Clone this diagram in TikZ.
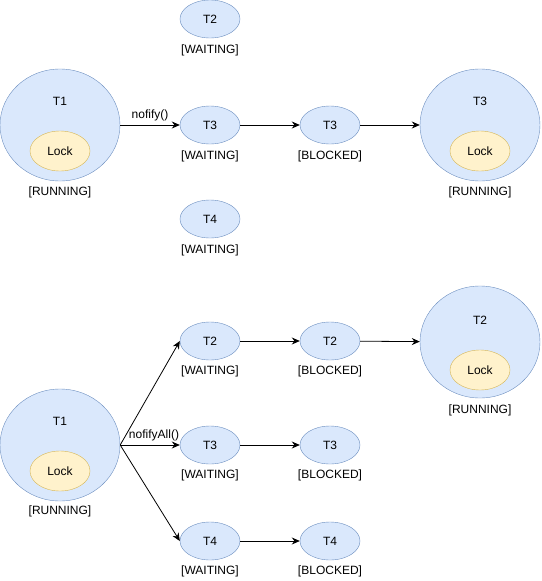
\documentclass[tikz,border=0pt]{standalone}
\usepackage{fontspec}
\setmainfont{Liberation Sans}
\usetikzlibrary{shapes.geometric,arrows.meta}
\definecolor{thrfill}{HTML}{DAE8FC}
\definecolor{thrline}{HTML}{6C8EBF}
\definecolor{lockfill}{HTML}{FFF2CC}
\definecolor{lockline}{HTML}{D6B656}
\begin{document}
\begin{tikzpicture}[x=1pt,y=-1pt,font=\fontsize{12}{14}\selectfont]
  \tikzstyle{thread}=[ellipse,draw=thrline,fill=thrfill,inner sep=0pt,minimum width=60pt,minimum height=38pt]
  \tikzstyle{owner}=[ellipse,draw=thrline,fill=thrfill,inner sep=0pt,minimum width=120pt,minimum height=112pt]
  \tikzstyle{lock}=[ellipse,draw=lockline,fill=lockfill,inner sep=0pt,minimum width=60pt,minimum height=40pt]
  \tikzstyle{flow}=[-{Stealth[length=8pt,width=7pt]},line width=0.8pt]
  \useasboundingbox (0,0) rectangle (541,581);

  % notify()
  \node[owner] (t1a) at (60,125) {};
  \node (t1atxt) at (60,101) {T1};
  \node[lock] (lka) at (60,151) {Lock};
  \node (t1asts) at (60,192) {[RUNNING]};

  \node[thread] (t2a) at (210,19) {T2};
  \node (t2asts) at (210,50) {[WAITING]};
  \node[thread] (t3a) at (210,125) {T3};
  \node (t3asts) at (210,156) {[WAITING]};
  \node[thread] (t4a) at (210,219) {T4};
  \node (t4asts) at (210,250) {[WAITING]};

  \node[thread] (t3b) at (330,125) {T3};
  \node (t3bsts) at (330,156) {[BLOCKED]};

  \node[owner] (t3c) at (480,125) {};
  \node (t3ctxt) at (480,101) {T3};
  \node[lock] (lkc) at (480,151) {Lock};
  \node (t3csts) at (480,192) {[RUNNING]};

  \draw[flow] (t1a) -- node[above] {nofify()} (t3a);
  \draw[flow] (t3a) -- (t3b);
  \draw[flow] (t3b) -- (t3c);

  % notifyAll()
  \node[owner] (t1d) at (60,445) {};
  \node (t1dtxt) at (60,421) {T1};
  \node[lock] (lkd) at (60,471) {Lock};
  \node (t1dsts) at (60,511) {[RUNNING]};

  \node[thread] (t2d) at (210,341) {T2};
  \node (t2dsts) at (210,371) {[WAITING]};
  \node[thread] (t3d) at (210,445) {T3};
  \node (t3dsts) at (210,475) {[WAITING]};
  \node[thread] (t4d) at (210,541) {T4};
  \node (t4dsts) at (210,571) {[WAITING]};

  \node[thread] (t2e) at (330,341) {T2};
  \node (t2ests) at (330,371) {[BLOCKED]};
  \node[thread] (t3e) at (330,445) {T3};
  \node (t3ests) at (330,475) {[BLOCKED]};
  \node[thread] (t4e) at (330,541) {T4};
  \node (t4ests) at (330,571) {[BLOCKED]};

  \node[owner] (t2f) at (480,342) {};
  \node (t2ftxt) at (480,320) {T2};
  \node[lock] (lkf) at (480,370) {Lock};
  \node (t2fsts) at (480,410) {[RUNNING]};

  \coordinate (fan) at (t1d.east);
  \draw[flow] (fan) -- (t2d.west);
  \draw[flow] (fan) -- node[above,xshift=4pt] {nofifyAll()} (t3d);
  \draw[flow] (fan) -- (t4d.west);
  \draw[flow] (t2d) -- (t2e);
  \draw[flow] (t3d) -- (t3e);
  \draw[flow] (t4d) -- (t4e);
  \draw[flow] (t2e) -- (t2f);
\end{tikzpicture}
\end{document}
